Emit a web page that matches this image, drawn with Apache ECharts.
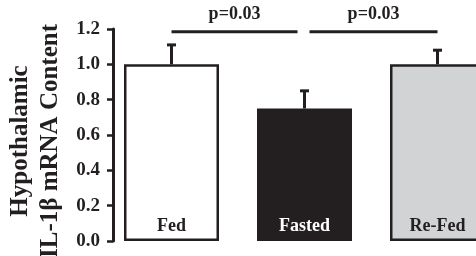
<!DOCTYPE html>
<html>
<head>
<meta charset="utf-8">
<script src="https://cdn.jsdelivr.net/npm/echarts@6/dist/echarts.min.js"></script>
<style>
	html, body { margin: 0; padding: 0; background: #fff; }
	#main { width: 476px; height: 256px; }
</style>
</head>
<body>
<div id="main"></div>
<script>
	var categories = ['Fed', 'Fasted', 'Re-Fed'];
	var means = [1.0, 0.75, 1.0];
	var errTops = [1.11, 0.85, 1.08];
	// comparisons: from index, to index, label
	var comparisons = [[0, 1, 'p=0.03'], [1, 2, 'p=0.03']];
	var bracketLevel = 1.185;

	var barColors = ['#ffffff', '#231f20', '#d1d3d4'];
	var labelColors = ['#231f20', '#ffffff', '#231f20'];
	var ink = '#231f20';
	var serif = '"Liberation Serif", "Times New Roman", serif';

	var chart = echarts.init(document.getElementById('main'));

	var barData = means.map(function(v, i) {
		return {
			value: v,
			itemStyle: { color: barColors[i] },
			label: { color: labelColors[i] }
		};
	});

	var option = {
		animation: false,
		grid: {
			left: 105,
			right: -28,
			top: 29,
			bottom: 15,
			containLabel: false,
			outerBoundsMode: 'none'
		},
		xAxis: {
			type: 'category',
			data: categories,
			show: false
		},
		yAxis: {
			type: 'value',
			min: 0,
			max: 1.2,
			interval: 0.2,
			offset: -8,
			name: 'Hypothalamic\nIL-1β mRNA Content',
			nameLocation: 'middle',
			nameGap: 44,
			nameTextStyle: {
				fontFamily: serif,
				fontWeight: 'bold',
				fontSize: 25,
				lineHeight: 30,
				color: ink,
				padding: [0, 12, 0, 0]
			},
			axisLine: { show: true, lineStyle: { color: ink, width: 3 } },
			axisTick: { show: true, length: 6, lineStyle: { color: ink, width: 2.5 } },
			axisLabel: {
				margin: 13,
				fontFamily: serif,
				fontWeight: 'bold',
				fontSize: 19,
				color: ink,
				formatter: function(v) { return v.toFixed(1); }
			},
			splitLine: { show: false }
		},
		series: [{
			type: 'bar',
			data: barData,
			barWidth: 95,
			itemStyle: { borderColor: ink, borderWidth: 2.5 },
			label: {
				show: true,
				position: 'insideBottom',
				distance: 6,
				fontFamily: serif,
				fontWeight: 'bold',
				fontSize: 18,
				formatter: function(p) { return p.name; }
			}
		}, {
			// error bars (upper only)
			type: 'custom',
			data: errTops.map(function(t, i) { return [i, means[i], t]; }),
			renderItem: function(params, api) {
				var base = api.coord([api.value(0), api.value(1)]);
				var top = api.coord([api.value(0), api.value(2)]);
				var style = { stroke: ink, lineWidth: 3 };
				return {
					type: 'group',
					children: [{
						type: 'line',
						shape: { x1: base[0], y1: base[1], x2: top[0], y2: top[1] },
						style: style
					}, {
						type: 'line',
						shape: { x1: top[0] - 4.5, y1: top[1], x2: top[0] + 4.5, y2: top[1] },
						style: style
					}]
				};
			}
		}, {
			// significance brackets
			type: 'custom',
			data: comparisons.map(function(c) { return [c[0], c[1], bracketLevel]; }),
			renderItem: function(params, api) {
				var a = api.value(0), b = api.value(1);
				var p1 = api.coord([a, api.value(2)]);
				var p2 = api.coord([b, api.value(2)]);
				var x1 = p1[0] + (a > 0 ? 5 : 0);
				var x2 = p2[0] - (b < categories.length - 1 ? 7 : 0);
				return {
					type: 'group',
					children: [{
						type: 'line',
						shape: { x1: x1, y1: p1[1], x2: x2, y2: p1[1] },
						style: { stroke: ink, lineWidth: 3 }
					}, {
						type: 'text',
						x: (x1 + x2) / 2,
						y: p1[1] - 8,
						style: {
							text: comparisons[params.dataIndex][2],
							align: 'center',
							verticalAlign: 'bottom',
							fontFamily: serif,
							fontWeight: 'bold',
							fontSize: 18,
							fill: ink
						}
					}]
				};
			}
		}]
	};
	chart.setOption(option);
</script>
</body>
</html>
